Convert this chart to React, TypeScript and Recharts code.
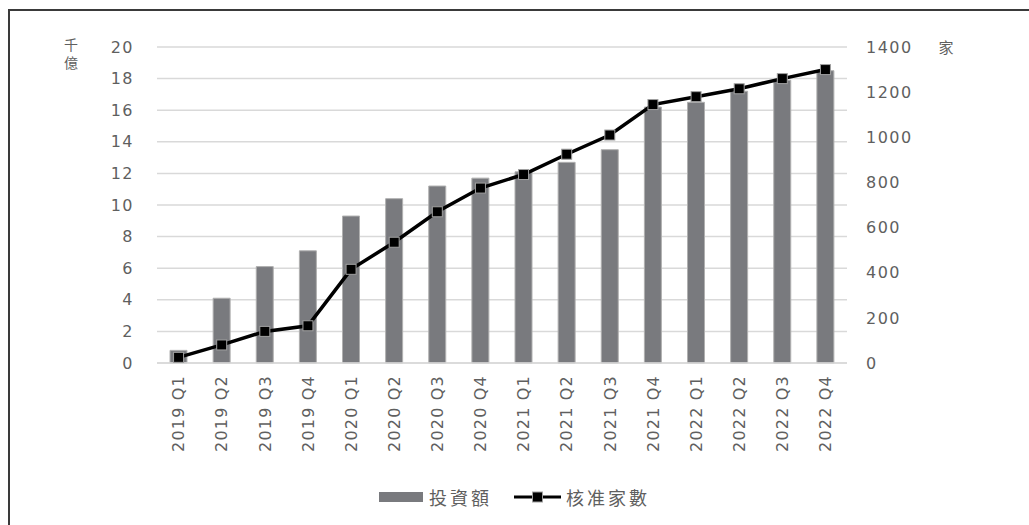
import { ComposedChart, Bar, Line, XAxis, YAxis, CartesianGrid, Legend, Label } from 'recharts'

const quarters = [
  '2019 Q1', '2019 Q2', '2019 Q3', '2019 Q4',
  '2020 Q1', '2020 Q2', '2020 Q3', '2020 Q4',
  '2021 Q1', '2021 Q2', '2021 Q3', '2021 Q4',
  '2022 Q1', '2022 Q2', '2022 Q3', '2022 Q4',
]
// 投資額 (千億)
const investment = [0.8, 4.1, 6.1, 7.1, 9.3, 10.4, 11.2, 11.7, 12.1, 12.7, 13.5, 16.2, 16.5, 17.2, 17.9, 18.5]
// 核准家數 (家)
const approvals = [25, 80, 140, 165, 415, 535, 670, 775, 835, 925, 1010, 1145, 1180, 1215, 1260, 1300]
const leftTicks = [0, 2, 4, 6, 8, 10, 12, 14, 16, 18, 20]
const rightTicks = [0, 200, 400, 600, 800, 1000, 1200, 1400]

const data = quarters.map((q, i) => ({ quarter: q, investment: investment[i], approvals: approvals[i] }))

const TEXT = '#5f5f5f'
const NUM_FONT = '"DejaVu Sans", "Noto Sans CJK TC", sans-serif'
const CJK_FONT = '"Noto Sans CJK TC", "DejaVu Sans", sans-serif'

const SquareDot = (props: any) => {
  const { cx, cy } = props
  if (cx == null || cy == null) return null
  return <rect x={cx - 5} y={cy - 5} width={10} height={10} fill="#000" stroke="#a0a0a0" strokeWidth={1} />
}

const QuarterTick = (props: any) => {
  const { x, y, payload } = props
  const ty = y + 4
  return (
    <text
      x={x}
      y={ty}
      dy="0.36em"
      transform={`rotate(-90, ${x}, ${ty})`}
      textAnchor="end"
      fill={TEXT}
      fontSize={16}
      fontFamily={NUM_FONT}
      letterSpacing={1.2}
    >
      {payload.value}
    </text>
  )
}

const renderLegend = () => (
  <div
    style={{
      display: 'flex',
      justifyContent: 'center',
      alignItems: 'center',
      fontFamily: CJK_FONT,
      fontSize: 18,
      letterSpacing: 3,
      color: TEXT,
    }}
  >
    <div style={{ width: 44, height: 10, background: '#797a7e', marginRight: 6 }} />
    <span style={{ marginRight: 22 }}>投資額</span>
    <svg width={47} height={12} style={{ marginRight: 5 }}>
      <line x1={0} y1={6} x2={47} y2={6} stroke="#000" strokeWidth={3} />
      <rect x={18.5} y={1} width={10} height={10} fill="#000" stroke="#a0a0a0" strokeWidth={1} />
    </svg>
    <span>核准家數</span>
  </div>
)

export default function App() {
  return (
    <div style={{ position: 'relative', width: 1029, height: 525 }}>
      <style>{`body{margin:0;overflow:hidden}`}</style>
      {/* 外框 */}
      <div
        style={{
          position: 'absolute',
          left: 8,
          top: 9,
          width: 1100,
          height: 600,
          borderTop: '2px solid #3a3a3a',
          borderLeft: '2px solid #3a3a3a',
        }}
      />
      <div style={{ position: 'absolute', left: 0, top: 0 }}>
        <ComposedChart width={1029} height={525} data={data} margin={{ top: 47, right: 122, bottom: 62, left: 100 }}>
          <CartesianGrid yAxisId="left" vertical={false} stroke="#d9d9d9" strokeWidth={1.5} />
          <XAxis
            dataKey="quarter"
            height={100}
            interval={0}
            tickLine={false}
            axisLine={{ stroke: '#d9d9d9', strokeWidth: 1.5 }}
            tick={<QuarterTick />}
          />
          <YAxis
            yAxisId="left"
            width={57}
            domain={[0, 20]}
            ticks={leftTicks}
            tickLine={false}
            axisLine={false}
            tickMargin={17}
            tick={{ fill: TEXT, fontSize: 16, fontFamily: NUM_FONT, letterSpacing: 1.5 }}
          >
            <Label
              content={() => (
                <g fill={TEXT} fontSize={14} fontFamily={CJK_FONT} textAnchor="middle">
                  <text x={71} y={50}>千</text>
                  <text x={71} y={68}>億</text>
                </g>
              )}
            />
          </YAxis>
          <YAxis
            yAxisId="right"
            orientation="right"
            width={60}
            domain={[0, 1400]}
            ticks={rightTicks}
            tickLine={false}
            axisLine={false}
            tickMargin={13}
            tick={{ fill: TEXT, fontSize: 16, fontFamily: NUM_FONT, letterSpacing: 1.5, textAnchor: 'start' }}
          >
            <Label
              content={() => (
                <text x={946} y={53} fill={TEXT} fontSize={15} fontFamily={CJK_FONT} textAnchor="middle">
                  家
                </text>
              )}
            />
          </YAxis>
          <Bar
            yAxisId="left"
            dataKey="investment"
            name="投資額"
            barSize={17}
            fill="#797a7e"
            stroke="#b0b0b0"
            strokeWidth={1}
            isAnimationActive={false}
          />
          <Line
            yAxisId="right"
            dataKey="approvals"
            name="核准家數"
            type="linear"
            stroke="#000"
            strokeWidth={3.5}
            dot={<SquareDot />}
            activeDot={false}
            isAnimationActive={false}
          />
          <Legend
            verticalAlign="middle"
            align="center"
            content={renderLegend}
            wrapperStyle={{ top: 484, left: 0, width: 1029 }}
          />
        </ComposedChart>
      </div>
    </div>
  )
}
